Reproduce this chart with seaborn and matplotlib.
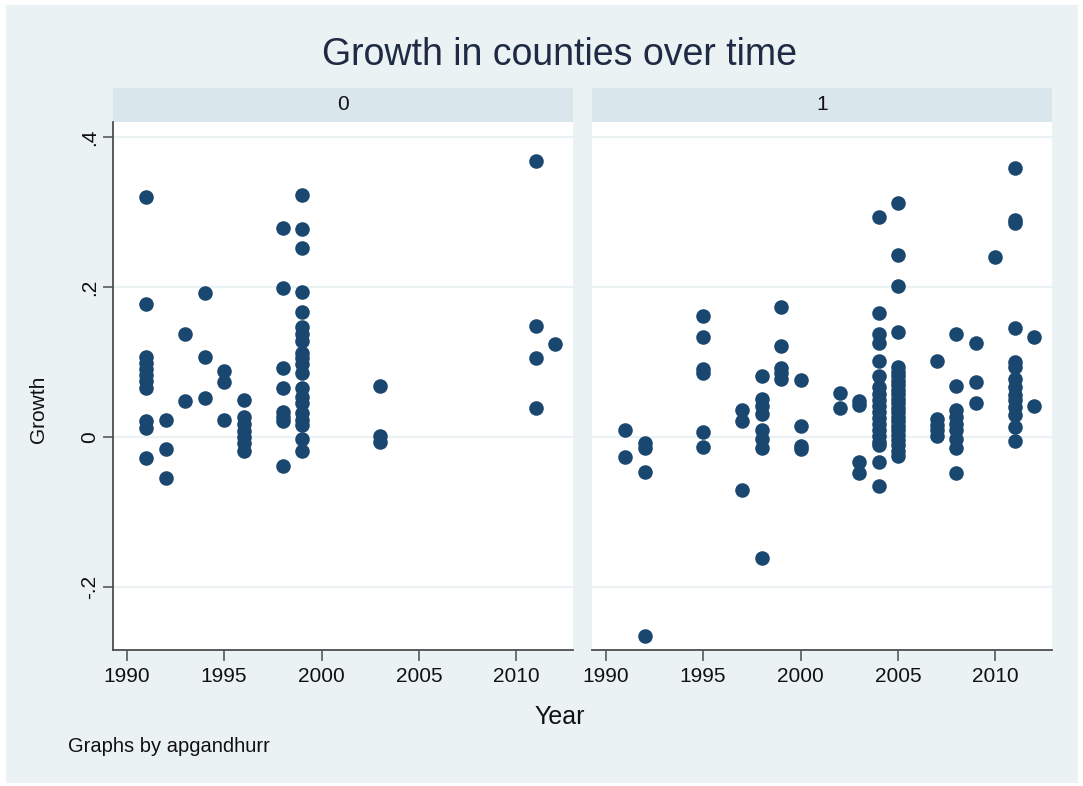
import matplotlib
matplotlib.use("Agg")
import matplotlib.pyplot as plt
from matplotlib.patches import Rectangle
from matplotlib import font_manager
import numpy as np
import pandas as pd
import seaborn as sns

# ---- data -------------------------------------------------------------
years_0 = (
    [1991] * 11 + [1992] * 3 + [1993] * 2 + [1994] * 3 + [1995] * 3 +
    [1996] * 7 + [1998] * 8 + [1999] * 20 + [2003] * 3 + [2011] * 4 + [2012]
)
growth_0 = [
    0.320, 0.178, 0.107, 0.099, 0.091, 0.083, 0.075, 0.066, 0.022, 0.012, -0.028,
    0.023, -0.016, -0.055,
    0.137, 0.048,
    0.192, 0.107, 0.052,
    0.088, 0.073, 0.023,
    0.050, 0.027, 0.018, 0.008, 0.000, -0.008, -0.019,
    0.279, 0.199, 0.092, 0.066, 0.034, 0.027, 0.021, -0.039,
    0.323, 0.277, 0.252, 0.194, 0.167, 0.147, 0.137, 0.128, 0.112, 0.105,
    0.098, 0.085, 0.065, 0.054, 0.045, 0.032, 0.023, 0.016, -0.002, -0.018,
    0.068, 0.001, -0.007,
    0.368, 0.148, 0.105, 0.039,
    0.124,
]

years_1 = (
    [1991] * 2 + [1992] * 4 + [1995] * 6 + [1997] * 3 + [1998] * 8 +
    [1999] * 5 + [2000] * 4 + [2002] * 2 + [2003] * 4 + [2004] * 19 +
    [2005] * 24 + [2007] * 5 + [2008] * 9 + [2009] * 3 + [2010] +
    [2011] * 14 + [2012] * 2
)
growth_1 = [
    0.009, -0.026,
    -0.008, -0.014, -0.046, -0.265,
    0.162, 0.133, 0.091, 0.086, 0.007, -0.013,
    0.036, 0.021, -0.071,
    0.082, 0.051, 0.042, 0.031, 0.010, -0.003, -0.014, -0.161,
    0.174, 0.122, 0.092, 0.085, 0.077,
    0.076, 0.015, -0.012, -0.016,
    0.059, 0.039,
    0.048, 0.043, -0.033, -0.048,
    0.293, 0.165, 0.138, 0.125, 0.101, 0.082, 0.067, 0.058, 0.050, 0.042,
    0.034, 0.026, 0.018, 0.010, 0.002, -0.006, -0.011, -0.033, -0.065,
    0.312, 0.242, 0.201, 0.140, 0.093, 0.087, 0.081, 0.075, 0.069, 0.063,
    0.057, 0.051, 0.045, 0.039, 0.033, 0.027, 0.021, 0.015, 0.009, 0.003,
    -0.004, -0.011, -0.018, -0.025,
    0.101, 0.024, 0.016, 0.009, 0.002,
    0.137, 0.068, 0.036, 0.027, 0.018, 0.009, -0.002, -0.015, -0.048,
    0.126, 0.073, 0.045,
    0.240,
    0.359, 0.289, 0.285, 0.146, 0.100, 0.093, 0.078, 0.067, 0.056, 0.049,
    0.040, 0.030, 0.014, -0.005,
    0.133, 0.041,
]

panel_labels = ["0", "1"]
x_ticks = [1990, 1995, 2000, 2005, 2010]
y_ticks = [-0.2, 0.0, 0.2, 0.4]
y_tick_labels = ["-.2", "0", ".2", ".4"]

df = pd.concat([
    pd.DataFrame({"Year": years_0, "Growth": growth_0, "group": panel_labels[0]}),
    pd.DataFrame({"Year": years_1, "Growth": growth_1, "group": panel_labels[1]}),
], ignore_index=True)

# ---- style ------------------------------------------------------------
sns.set_theme(style="white")
available = {f.name for f in font_manager.fontManager.ttflist}
families = [f for f in ["Liberation Sans Narrow", "Liberation Sans", "DejaVu Sans"] if f in available]
plt.rcParams["font.family"] = families

BG = "#EAF2F3"
STRIP = "#D9E6EB"
MARK = "#1A476F"
AXIS = "#4D4D4D"
TEXT = "#111111"

TICK_FS = 15
W, H = 1083, 786
fig = plt.figure(figsize=(W / 100, H / 100), dpi=100)
fig.patch.set_facecolor("white")
fig.patches.append(Rectangle((6 / W, 3 / H), (1078 - 6) / W, (781 - 3) / H,
                             transform=fig.transFigure, facecolor=BG,
                             edgecolor="none", zorder=-10))

ax_left, ax_w = [113, 592], 460
ax_top, ax_bot = 122, 650
strip_h = 34
axes = []
for i, lbl in enumerate(panel_labels):
    ax = fig.add_axes([ax_left[i] / W, 1 - ax_bot / H, ax_w / W, (ax_bot - ax_top) / H])
    ax.set_facecolor("white")
    sub = df[df["group"] == lbl]
    sns.scatterplot(data=sub, x="Year", y="Growth", ax=ax, color=MARK,
                    s=110, linewidth=0, legend=False, zorder=3)
    ax.set_xlim(1989.3, 2012.9)
    ax.set_ylim(-0.284, 0.42)
    ax.set_xticks(x_ticks)
    ax.set_yticks(y_ticks)
    ax.grid(axis="y", color=BG, linewidth=1.6, zorder=0)
    ax.grid(axis="x", visible=False)
    ax.set_axisbelow(True)
    for side in ["top", "right"]:
        ax.spines[side].set_visible(False)
    ax.spines["bottom"].set_color(AXIS)
    ax.spines["bottom"].set_linewidth(1.3)
    ax.tick_params(axis="x", direction="out", length=8, width=1.1, color=AXIS,
                   labelsize=TICK_FS, labelcolor=TEXT, pad=4, bottom=True)
    ax.set_xlabel("")
    ax.set_ylabel("")
    # facet header strip
    frac = strip_h / (ax_bot - ax_top)
    ax.add_patch(Rectangle((0, 1.0), 1, frac, transform=ax.transAxes,
                           facecolor=STRIP, edgecolor="none", clip_on=False))
    ax.text(0.5, 1 + frac / 2, lbl, transform=ax.transAxes, ha="center",
            va="center", fontsize=TICK_FS, color=TEXT)
    if i == 0:
        ax.spines["left"].set_color(AXIS)
        ax.spines["left"].set_linewidth(1.3)
        ax.tick_params(axis="y", direction="out", length=7, width=1.1, color=AXIS,
                       labelsize=TICK_FS, labelcolor=TEXT, pad=3, left=True)
        ax.set_yticklabels(y_tick_labels, rotation=90, va="center")
        ax.set_ylabel("Growth", fontsize=15, color=TEXT)
        ax.yaxis.set_label_coords(-(113 - 48) / ax_w, 0.455)
    else:
        ax.spines["left"].set_visible(False)
        ax.tick_params(axis="y", left=False, labelleft=False)
    axes.append(ax)

fig.text(559 / W, 1 - 55 / H, "Growth in counties over time", ha="center",
         va="center", fontsize=27, color="#1F2A44")
fig.text(560 / W, 1 - 717 / H, "Year", ha="center", va="center",
         fontsize=18, color=TEXT)
fig.text(68 / W, 1 - 746 / H, "Graphs by apgandhurr", ha="left", va="center",
         fontsize=14.5, color=TEXT)

fig.savefig("out.png", dpi=100, facecolor=fig.get_facecolor())
